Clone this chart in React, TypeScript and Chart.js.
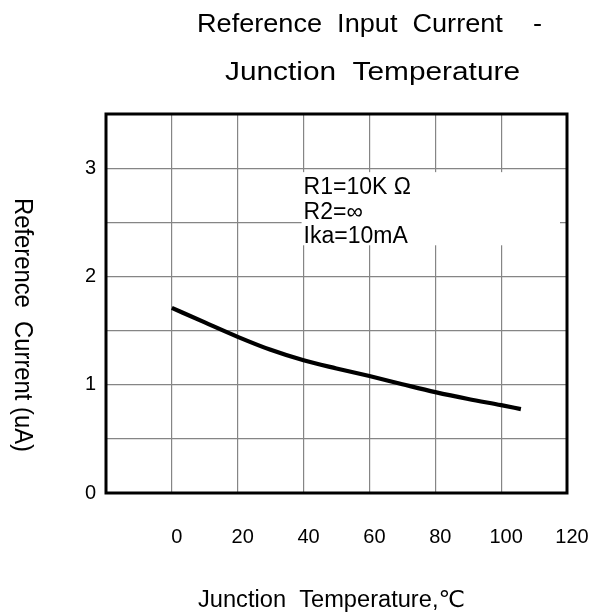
import React, { useEffect, useRef } from "react";
import { Chart, registerables } from "chart.js";

Chart.register(...registerables);

// ---- data ----
const TEMPS = [0, 10, 20, 30, 40, 50, 60, 70, 80, 90, 100, 106];
const CURRENT = [1.71, 1.575, 1.442, 1.322, 1.225, 1.15, 1.08, 1.005, 0.932, 0.868, 0.811, 0.775];
const X_LABELED = [0, 20, 40, 60, 80, 100, 120];
const Y_LABELED = [0, 1, 2, 3];
const TITLE_LINES = ["Reference  Input  Current    -", "Junction  Temperature"];
const NOTE_LINES = ["R1=10K Ω", "R2=∞", "Ika=10mA"];
const X_TITLE = "Junction  Temperature,℃";
const Y_TITLE = "Reference  Current (uA)";

const FONT = "'Liberation Sans', Arimo, Arial, 'DejaVu Sans', sans-serif";

function fitText(
  ctx: CanvasRenderingContext2D,
  text: string,
  x: number,
  y: number,
  width: number,
  size: number,
  rotation = 0
) {
  ctx.save();
  ctx.font = `${size}px ${FONT}`;
  const w = ctx.measureText(text).width;
  ctx.translate(x, y);
  ctx.rotate(rotation);
  ctx.scale(width / w, 1);
  ctx.textAlign = "left";
  ctx.textBaseline = "alphabetic";
  ctx.fillStyle = "#000";
  ctx.fillText(text, 0, 0);
  ctx.restore();
}

const decor = {
  id: "decor",
  beforeDatasetsDraw(chart: any) {
    const { ctx, chartArea, scales } = chart;
    const x = scales.x;
    const y = scales.y;
    const left = x.getPixelForValue(40) - 2;
    const right = chartArea.right - 7;
    const top = y.getPixelForValue(3) + 4;
    const bottom = y.getPixelForValue(2.5) + 23;
    ctx.save();
    ctx.fillStyle = "#fff";
    ctx.fillRect(left, top, right - left, bottom - top);
    ctx.fillStyle = "#000";
    ctx.font = `23px ${FONT}`;
    ctx.textAlign = "left";
    ctx.textBaseline = "alphabetic";
    NOTE_LINES.forEach((t, i) => {
      ctx.fillText(t, left + 2, top + 22 + i * 24.5);
    });
    ctx.restore();
  },
  afterDraw(chart: any) {
    const { ctx, chartArea } = chart;
    ctx.save();
    ctx.strokeStyle = "#000";
    ctx.lineWidth = 3;
    ctx.strokeRect(
      chartArea.left,
      chartArea.top,
      chartArea.right - chartArea.left,
      chartArea.bottom - chartArea.top
    );
    ctx.restore();
    fitText(ctx, TITLE_LINES[0], 197, 32, 345, 25);
    fitText(ctx, TITLE_LINES[1], 225, 79.5, 295, 25);
    fitText(ctx, X_TITLE, 198, 607, 267, 23);
    fitText(ctx, Y_TITLE, 15, 198, 254, 25, Math.PI / 2);
  },
};

export default function App() {
  const ref = useRef<HTMLCanvasElement>(null);

  useEffect(() => {
    const canvas = ref.current;
    if (!canvas) return;
    const chart = new Chart(canvas, {
      type: "line",
      data: {
        datasets: [
          {
            data: TEMPS.map((t, i) => ({ x: t, y: CURRENT[i] })),
            borderColor: "#000",
            borderWidth: 4.2,
            pointRadius: 0,
            cubicInterpolationMode: "monotone",
            fill: false,
          },
        ],
      },
      options: {
        animation: false,
        responsive: false,
        devicePixelRatio: 1,
        layout: { padding: { top: 114, right: 29, left: 0, bottom: 0 } },
        plugins: {
          legend: { display: false },
          tooltip: { enabled: false },
          title: { display: false },
        },
        scales: {
          x: {
            type: "linear",
            min: -20,
            max: 120,
            ticks: {
              stepSize: 20,
              padding: 32,
              labelOffset: 5,
              color: "#000",
              font: { family: FONT, size: 20 },
              maxRotation: 0,
              autoSkip: false,
              callback: (v: any) => (X_LABELED.includes(Number(v)) ? String(v) : ""),
            },
            grid: { color: "#858585", lineWidth: 1.2, drawTicks: false },
            border: { display: false },
            afterFit: (s: any) => {
              s.height = 119;
              s.paddingLeft = 0;
              s.paddingRight = 0;
            },
          },
          y: {
            type: "linear",
            min: 0,
            max: 3.5,
            ticks: {
              stepSize: 0.5,
              padding: 10,
              color: "#000",
              font: { family: FONT, size: 20 },
              autoSkip: false,
              callback: (v: any) => {
                const n = Math.round(Number(v) * 100) / 100;
                return Y_LABELED.includes(n) ? String(n) : "";
              },
            },
            grid: { color: "#858585", lineWidth: 1.2, drawTicks: false },
            border: { display: false },
            afterFit: (s: any) => {
              s.width = 106;
              s.paddingTop = 0;
              s.paddingBottom = 0;
            },
          },
        },
      },
      plugins: [decor],
    });
    return () => chart.destroy();
  }, []);

  return (
    <div
      style={{
        position: "absolute",
        left: 0,
        top: 0,
        width: 596,
        height: 612,
        background: "#fff",
      }}
    >
      <canvas
        ref={ref}
        width={596}
        height={612}
        style={{ display: "block", width: 596, height: 612 }}
      />
    </div>
  );
}
